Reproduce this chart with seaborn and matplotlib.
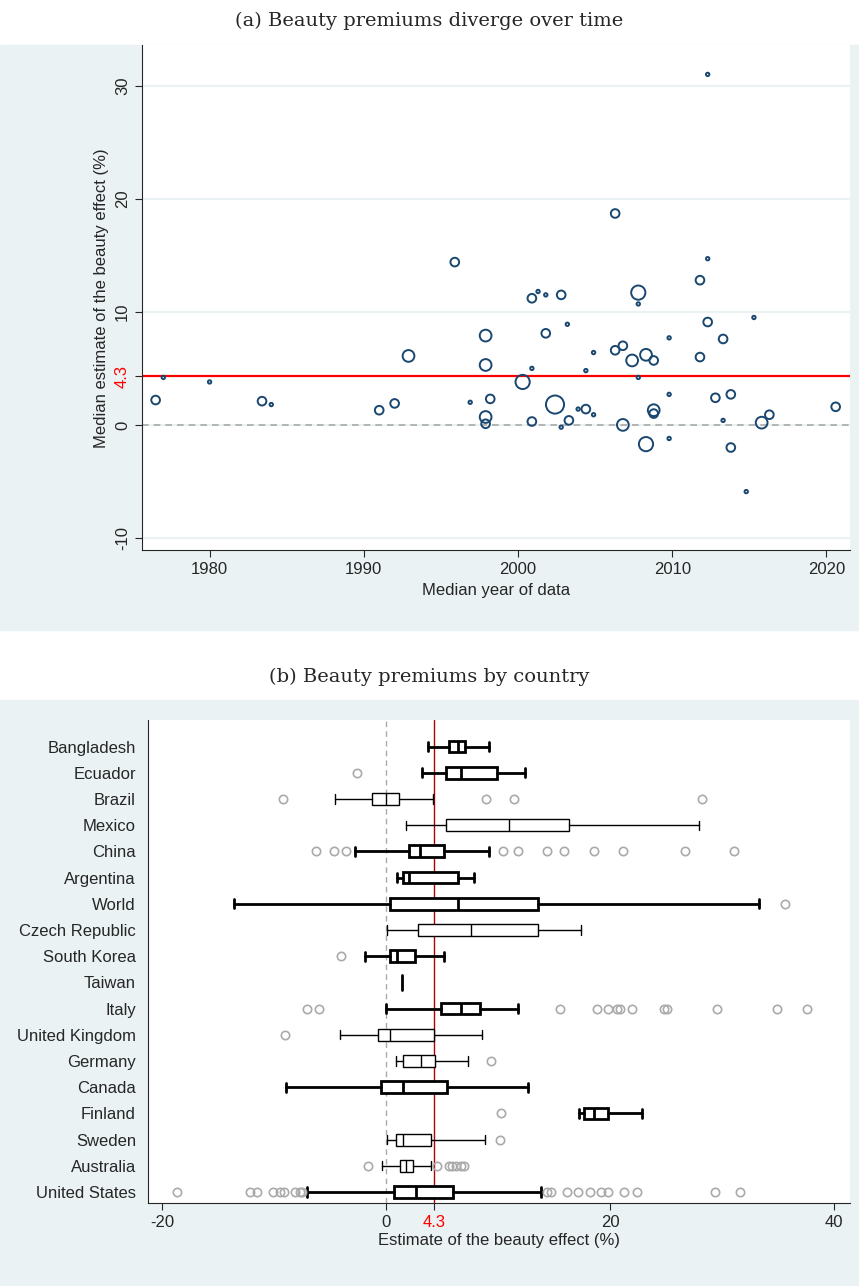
import numpy as np
import matplotlib
matplotlib.use("Agg")
import matplotlib.pyplot as plt
import seaborn as sns
import pandas as pd

# ---------- panel (a): median estimate by median year ----------
anos = [1976.5, 1977.0, 1980.0, 1983.4, 1984.0, 1991.0, 1992.0, 1992.9, 1995.9, 1996.9,
        1997.9, 1997.9, 1997.9, 1997.9, 1998.2, 2000.3, 2000.9, 2001.3, 2001.8, 2002.8,
        2000.9, 2000.9, 2001.8, 2002.4, 2002.8, 2003.2, 2003.3, 2003.9, 2004.4, 2004.9,
        2004.4, 2004.9, 2006.3, 2006.3, 2006.8, 2007.4, 2006.8, 2007.8, 2007.8, 2007.8,
        2008.3, 2008.8, 2008.8, 2008.8, 2008.3, 2009.8, 2009.8, 2009.8, 2011.8, 2011.8,
        2012.3, 2012.3, 2012.3, 2012.8, 2013.3, 2013.3, 2013.8, 2013.8, 2014.8, 2015.3,
        2015.8, 2016.3, 2020.6]
efeito = [2.2, 4.2, 3.8, 2.1, 1.8, 1.3, 1.9, 6.1, 14.4, 2.0,
          7.9, 5.3, 0.7, 0.1, 2.3, 3.8, 11.2, 11.8, 11.5, 11.5,
          5.0, 0.3, 8.1, 1.8, -0.2, 8.9, 0.4, 1.4, 1.4, 0.9,
          4.8, 6.4, 18.7, 6.6, 7.0, 5.7, 0.0, 4.2, 11.7, 10.7,
          6.2, 5.7, 1.3, 1.0, -1.7, 7.7, 2.7, -1.2, 12.8, 6.0,
          31.0, 14.7, 9.1, 2.4, 7.6, 0.4, 2.7, -2.0, -5.9, 9.5,
          0.2, 0.9, 1.6]
peso = [2, 1, 1, 2, 1, 2, 2, 3, 2, 1,
        3, 3, 3, 2, 2, 4, 2, 1, 1, 2,
        1, 2, 2, 6, 1, 1, 2, 1, 2, 1,
        1, 1, 2, 2, 2, 3, 3, 1, 4, 1,
        3, 2, 3, 2, 4, 1, 1, 1, 2, 2,
        1, 1, 2, 2, 2, 1, 2, 2, 1, 1,
        3, 2, 2]
mediana_geral = 4.3

# ---------- panel (b): box stats by country ----------
paises = ["Bangladesh", "Ecuador", "Brazil", "Mexico", "China", "Argentina", "World",
          "Czech Republic", "South Korea", "Taiwan", "Italy", "United Kingdom", "Germany",
          "Canada", "Finland", "Sweden", "Australia", "United States"]
bigode_inf = [3.75, 3.22, -4.58, 1.77, -2.76, 1.0, -13.6, 0.07, -1.9, 1.45, 0.0, -4.13, 0.88, -8.95, 17.26, 0.07, -0.41, -7.09]
quartil1 = [5.6, 5.33, -1.3, 5.33, 2.01, 1.49, 0.35, 2.82, 0.31, 1.45, 4.88, -0.74, 1.49, -0.5, 17.7, 0.84, 1.2, 0.72]
mediana = [6.38, 6.66, -0.05, 10.99, 3.0, 2.05, 6.38, 7.59, 0.96, 1.45, 6.66, 0.32, 3.1, 1.53, 18.59, 1.53, 1.81, 2.65]
quartil3 = [7.07, 9.86, 1.12, 16.37, 5.13, 6.46, 13.58, 13.54, 2.54, 1.45, 8.36, 4.28, 4.32, 5.45, 19.8, 4.03, 2.42, 6.01]
bigode_sup = [9.21, 12.4, 4.15, 27.97, 9.17, 7.88, 33.27, 17.42, 5.13, 1.45, 11.8, 8.52, 7.27, 12.65, 22.88, 8.85, 4.03, 13.82]
outliers = [
    [], [-2.64], [-9.19, 8.9, 11.4, 28.2], [],
    [-6.28, -4.62, -3.57, 10.42, 11.76, 14.39, 15.88, 18.59, 21.18, 26.68, 31.05],
    [], [35.6], [], [-4.0], [],
    [-7.09, -6.0, 15.52, 18.87, 19.8, 20.61, 20.9, 21.99, 24.86, 25.06, 29.59, 34.93, 37.56],
    [-9.07], [9.41], [], [10.3], [10.18],
    [-1.59, 4.56, 5.57, 5.85, 6.26, 6.66, 6.95],
    [-18.65, -12.14, -11.54, -10.12, -9.51, -9.11, -8.1, -7.69, -7.49,
     14.35, 14.75, 16.17, 17.18, 18.19, 19.2, 19.81, 21.22, 22.43, 29.39, 31.61],
]
negrito = ["Bangladesh", "Ecuador", "China", "Argentina", "World", "South Korea", "Taiwan",
           "Italy", "Canada", "Finland", "United States"]

sns.set_style("white")
plt.rcParams["font.family"] = ["Liberation Sans", "DejaVu Sans"]

azul = "#1a476f"
fundo = "#eaf2f3"

fig = plt.figure(figsize=(8.59, 12.86), dpi=100)
fig.patches.append(plt.Rectangle((0, 0.51), 1, 0.455, transform=fig.transFigure, color=fundo, zorder=-5))
fig.patches.append(plt.Rectangle((0, 0), 1, 0.456, transform=fig.transFigure, color=fundo, zorder=-5))

# --- painel a
ax1 = fig.add_axes([0.165, 0.572, 0.824, 0.393])
df = pd.DataFrame({"ano": anos, "efeito": efeito, "peso": peso})
for lv in [-10, 0, 10, 20, 30]:
    ax1.axhline(lv, color="#eaf2f3", lw=1.5, zorder=0)
ax1.axhline(0, color="#aaaaaa", lw=1.2, ls=(0, (4, 3)), zorder=1)
ax1.axhline(mediana_geral, color="red", lw=1.6, zorder=1)
sns.scatterplot(data=df, x="ano", y="efeito", size="peso", sizes=(6, 170),
                facecolor="none", edgecolor=azul, linewidth=1.4, legend=False, ax=ax1, zorder=3)
ax1.set_xlim(1975.6, 2021.5)
ax1.set_ylim(-11.1, 33.6)
ax1.set_xticks([1980, 1990, 2000, 2010, 2020])
ax1.set_yticks([-10, 0, mediana_geral, 10, 20, 30])
ax1.set_yticklabels(["-10", "0", "4.3", "10", "20", "30"], rotation=90, va="center")
ax1.get_yticklabels()[2].set_color("red")
ax1.tick_params(axis="both", labelsize=12, length=5, direction="out", left=True, bottom=True)
ax1.set_xlabel("Median year of data", fontsize=12)
ax1.set_ylabel("Median estimate of the beauty effect (%)", fontsize=12)
for s in ["top", "right"]:
    ax1.spines[s].set_visible(False)
fig.text(0.5, 0.984, "(a) Beauty premiums diverge over time", ha="center", va="center",
         fontsize=14, family="DejaVu Serif")

# --- painel b
ax2 = fig.add_axes([0.172, 0.0645, 0.817, 0.376])
n = len(paises)
ax2.axvline(0, color="#aaaaaa", lw=1.0, ls=(0, (4, 3)), zorder=0)
ax2.axvline(mediana_geral, color="#b00000", lw=1.0, zorder=0)
for i, p in enumerate(paises):
    y = n - 1 - i
    lw = 2.0 if p in negrito else 1.0
    if p == "Taiwan":
        ax2.plot([mediana[i], mediana[i]], [y - 0.3, y + 0.3], color="black", lw=2, zorder=3)
        continue
    st = [{"whislo": bigode_inf[i], "q1": quartil1[i], "med": mediana[i],
           "q3": quartil3[i], "whishi": bigode_sup[i], "fliers": outliers[i]}]
    ax2.bxp(st, positions=[y], vert=False, widths=0.45, patch_artist=True,
            boxprops=dict(facecolor="white", edgecolor="black", lw=lw),
            medianprops=dict(color="black", lw=lw),
            whiskerprops=dict(color="black", lw=lw),
            capprops=dict(color="black", lw=lw), capwidths=0.35,
            flierprops=dict(marker="o", mfc="none", mec="#aaaaaa", ms=6, mew=1.2),
            manage_ticks=False, zorder=3)
ax2.set_yticks(range(n))
ax2.set_yticklabels(paises[::-1])
ax2.set_ylim(-0.42, n - 1 + 1.03)
ax2.set_xlim(-21.3, 41.4)
ax2.set_xticks([-20, 0, mediana_geral, 20, 40])
ax2.set_xticklabels(["-20", "0", "4.3", "20", "40"])
ax2.get_xticklabels()[2].set_color("red")
ax2.tick_params(axis="both", labelsize=12, length=5, direction="out", left=False, bottom=True)
ax2.set_xlabel("Estimate of the beauty effect (%)", fontsize=12, labelpad=2)
for s in ["top", "right"]:
    ax2.spines[s].set_visible(False)
fig.text(0.5, 0.474, "(b) Beauty premiums by country", ha="center", va="center",
         fontsize=14, family="DejaVu Serif")

fig.savefig("out.png", dpi=100)
